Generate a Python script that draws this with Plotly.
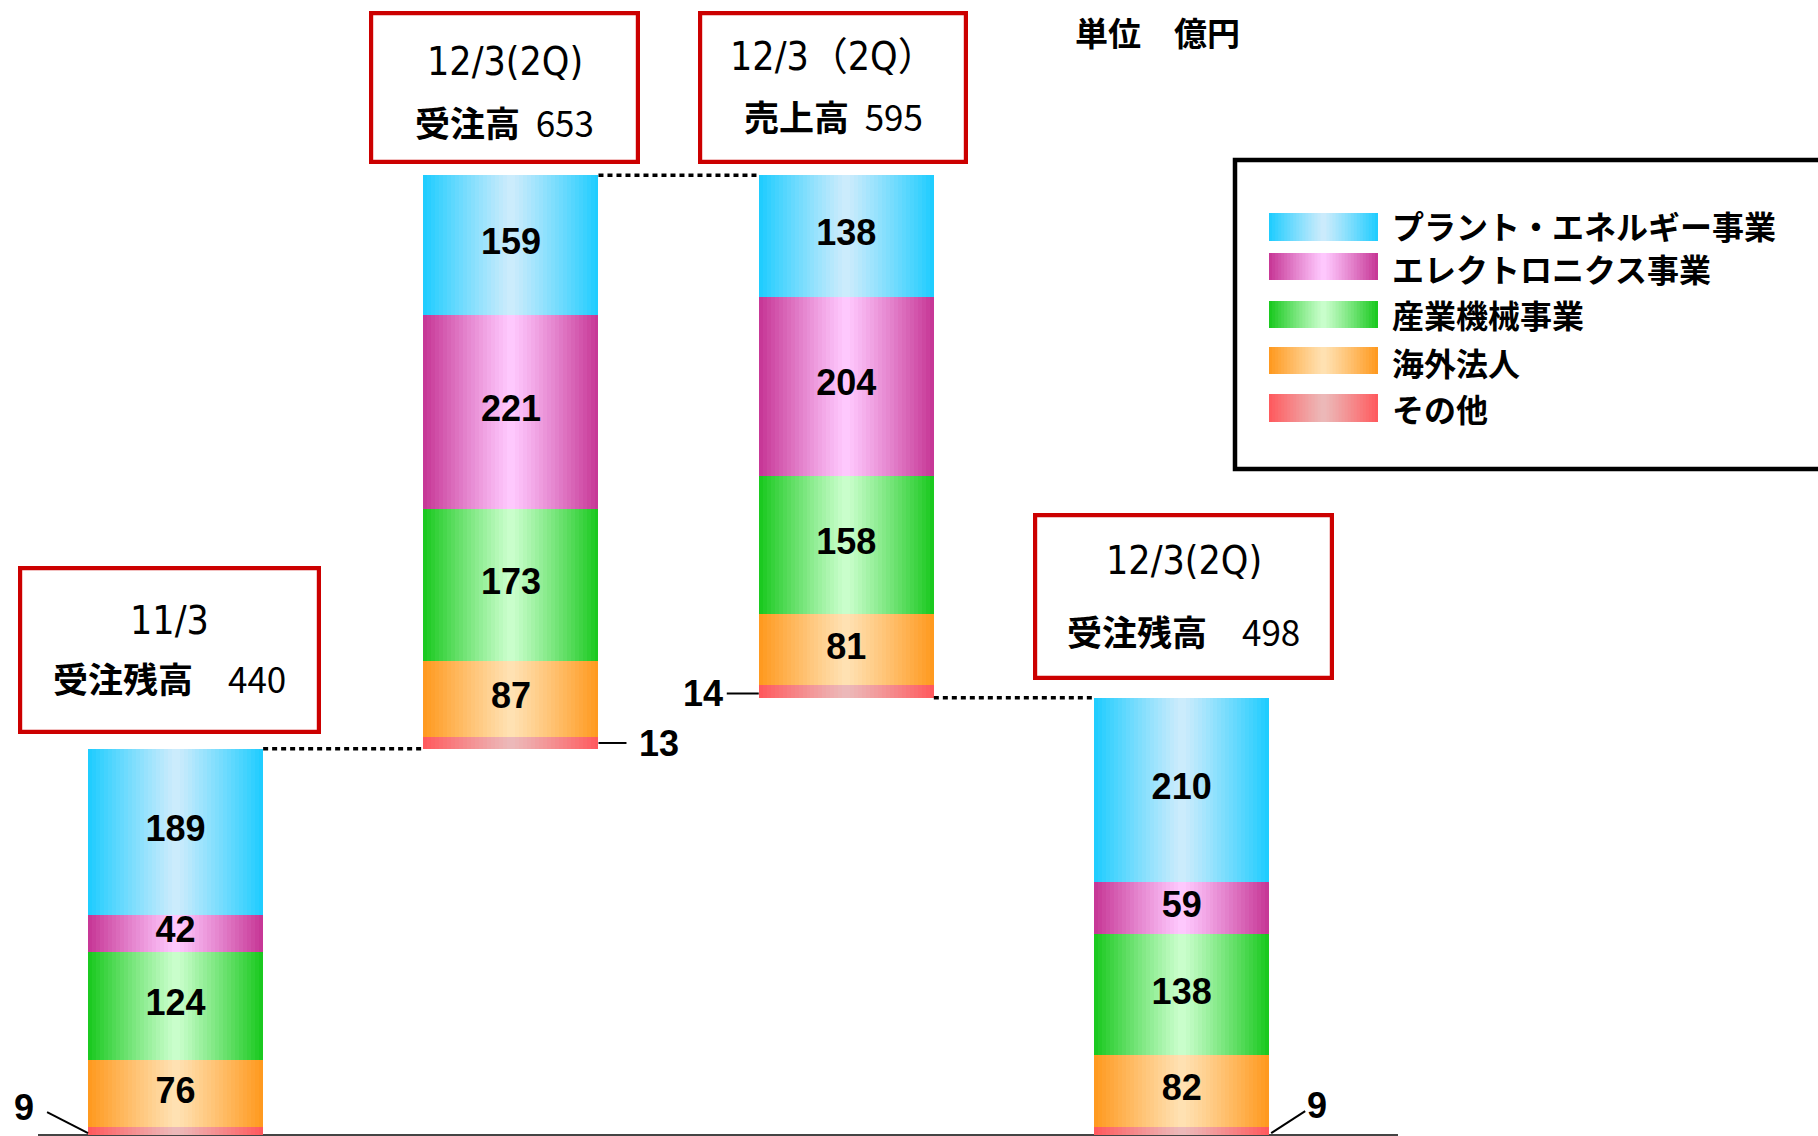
import plotly.graph_objects as go

# ---- data (億円) -------------------------------------------------------
# stacking order, bottom first
segments = ["その他", "海外法人", "産業機械事業", "エレクトロニクス事業", "プラント・エネルギー事業"]

period_labels = ["11/3", "12/3(2Q)", "12/3（2Q）", "12/3(2Q)"]
measure_labels = ["受注残高", "受注高", "売上高", "受注残高"]

other = [9, 13, 14, 9]
overseas = [76, 87, 81, 82]
industrial = [124, 173, 158, 138]
electronics = [42, 221, 204, 59]
plant = [189, 159, 138, 210]

series = [other, overseas, industrial, electronics, plant]

# ---- derived stack geometry ------------------------------------------
n_cols = len(period_labels)
xs = list(range(n_cols))
totals = [sum(s[i] for s in series) for i in range(n_cols)]
# opening backlog, + orders (floating), - sales (floating), closing backlog
col_base = [0, totals[0], totals[0] + totals[1] - totals[2], 0]

seg_bases = []
running = list(col_base)
for s in series:
    seg_bases.append(list(running))
    running = [running[i] + s[i] for i in range(n_cols)]
col_top = running

# ---- styling -----------------------------------------------------------
W_PX, H_PX = 1818, 1136
BAR_W = 0.522
Y_SCALE = 0.878          # pixels per 億円
Y_ZERO = 1135            # pixel row of the baseline
FONT_JP = "Noto Sans CJK JP"
FONT_NUM = "Liberation Sans, Arial"
FONT_PERIOD = "DejaVu Sans Condensed, Noto Sans CJK JP"

# (edge colour, centre colour) for the horizontal shading of each segment
shades = {
    "その他": ((255, 88, 92), (236, 186, 186)),
    "海外法人": ((255, 152, 28), (255, 226, 180)),
    "産業機械事業": ((22, 200, 28), (204, 255, 206)),
    "エレクトロニクス事業": ((198, 52, 148), (255, 202, 255)),
    "プラント・エネルギー事業": ((28, 204, 255), (206, 236, 252)),
}


def blend(edge, mid, u):
    t = min(1.0, abs(u - 0.5) * 2.0)
    t = t ** 1.1
    c = [round(m + (e - m) * t) for e, m in zip(edge, mid)]
    return "rgb({},{},{})".format(*c)


def px(x):
    return x / W_PX


def py(y):
    return 1 - y / H_PX


fig = go.Figure()

# shaded stacked bars, drawn as thin vertical strips
N_STRIPS = 44
step = BAR_W / N_STRIPS
for name, vals, bases in zip(segments, series, seg_bases):
    edge, mid = shades[name]
    for i in range(N_STRIPS):
        off = -BAR_W / 2 + i * step
        width = min(step * 1.6, BAR_W / 2 - off)
        fig.add_trace(go.Bar(
            x=xs, y=vals, base=bases,
            offset=off, width=width,
            marker=dict(color=blend(edge, mid, (i + 0.5) / N_STRIPS), line=dict(width=0)),
            showlegend=False, hoverinfo="skip",
        ))

# value labels inside the larger segments
lab_x, lab_y, lab_t = [], [], []
for vals, bases in zip(series[1:], seg_bases[1:]):
    for i in xs:
        lab_x.append(i)
        lab_y.append(bases[i] + vals[i] / 2)
        lab_t.append(str(vals[i]))
fig.add_trace(go.Scatter(
    x=lab_x, y=lab_y, text=lab_t, mode="text",
    textposition="middle center",
    textfont=dict(family=FONT_NUM, size=36, color="black", weight="bold"),
    showlegend=False, hoverinfo="skip",
))

shapes = []
annotations = []

# baseline
shapes.append(dict(type="line", xref="paper", yref="y", x0=px(38), x1=px(1398), y0=0, y1=0,
                   line=dict(color="#444444", width=2), layer="below"))

# dotted connectors between consecutive columns
connectors = [(0, col_top[0]), (1, col_top[1]), (2, col_base[2])]
for i, level in connectors:
    shapes.append(dict(type="line", xref="x", yref="y",
                       x0=i + BAR_W / 2, x1=i + 1 - BAR_W / 2, y0=level, y1=level,
                       line=dict(color="black", width=3.5, dash="5px,4px")))

# outside labels for the thin "その他" segments with leader lines
# (column, side, line start, line end, text shift) — pixel offsets, y up
leaders = [
    (0, -1, (0, -2), (-41, 19), (-64, 24)),
    (1, 1, (0, 0), (28, 0), (61, -1)),
    (2, -1, (0, -2), (-32, -2), (-56, -2)),
    (3, 1, (2, -2), (36, 20), (48, 26)),
]
for i, side, p0, p1, tshift in leaders:
    ax = i + side * BAR_W / 2
    ay = seg_bases[0][i] + other[i] / 2
    shapes.append(dict(type="line", xref="x", yref="y", xsizemode="pixel", ysizemode="pixel",
                       xanchor=ax, yanchor=ay, x0=p0[0], y0=p0[1], x1=p1[0], y1=p1[1],
                       line=dict(color="black", width=2)))
    annotations.append(dict(xref="x", yref="y", x=ax, y=ay, xshift=tshift[0], yshift=tshift[1],
                            text=str(other[i]), showarrow=False,
                            font=dict(family=FONT_NUM, size=36, color="black", weight="bold")))

# red call-out boxes with period and total
boxes = [
    ((18, 566, 321, 734), 620, 677, "\u3000"),
    ((369, 11, 640, 164), 62, 121, "\u00a0\u00a0"),
    ((698, 11, 968, 164), 57, 116, "\u00a0\u00a0"),
    ((1033, 513, 1334, 680), 560, 630, "\u3000"),
]
for i, ((x0, y0, x1, y1), l1, l2, gap) in enumerate(boxes):
    bw = 4.2
    shapes.append(dict(type="rect", xref="paper", yref="paper",
                       x0=px(x0 + bw / 2), x1=px(x1 - bw / 2), y0=py(y0 + bw / 2), y1=py(y1 - bw / 2),
                       line=dict(color="#CC0000", width=bw), fillcolor="white"))
    cx = px((x0 + x1) / 2)
    annotations.append(dict(xref="paper", yref="paper", x=cx, y=py(l1), text=period_labels[i],
                            showarrow=False, xanchor="center", yanchor="middle",
                            font=dict(family=FONT_PERIOD, size=39, color="black")))
    annotations.append(dict(xref="paper", yref="paper", x=cx, y=py(l2),
                            text="<b>{}</b>{}{}".format(measure_labels[i], gap, totals[i]),
                            showarrow=False, xanchor="center", yanchor="middle",
                            font=dict(family=FONT_JP, size=35, color="black")))

# unit note
annotations.append(dict(xref="paper", yref="paper", x=px(1157), y=py(32), text="<b>単位\u3000億円</b>",
                        showarrow=False, xanchor="center", yanchor="middle",
                        font=dict(family=FONT_JP, size=33, color="black")))

# legend panel
shapes.append(dict(type="rect", xref="paper", yref="paper",
                   x0=px(1235), x1=px(1840), y0=py(160), y1=py(469),
                   line=dict(color="black", width=4.5), fillcolor="white"))
legend_rows = [
    ("プラント・エネルギー事業", 213, 241, 225),
    ("エレクトロニクス事業", 253, 280, 268),
    ("産業機械事業", 301, 328, 314),
    ("海外法人", 347, 374, 362),
    ("その他", 394, 422, 408),
]
SW_X0, SW_X1, N_SW = 1269, 1378, 36
sw_step = (SW_X1 - SW_X0) / N_SW
for name, ty, by, cy in legend_rows:
    edge, mid = shades[name]
    for k in range(N_SW):
        sx0 = SW_X0 + k * sw_step
        sx1 = min(SW_X1, sx0 + sw_step * 1.6)
        shapes.append(dict(type="rect", xref="paper", yref="paper",
                           x0=px(sx0), x1=px(sx1), y0=py(by), y1=py(ty),
                           line=dict(width=0), fillcolor=blend(edge, mid, (k + 0.5) / N_SW)))
    annotations.append(dict(xref="paper", yref="paper", x=px(1390), y=py(cy), text="<b>{}</b>".format(name),
                            showarrow=False, xanchor="left", yanchor="middle",
                            font=dict(family=FONT_JP, size=32, color="black")))

fig.update_layout(
    width=W_PX, height=H_PX,
    margin=dict(l=0, r=0, t=0, b=0, pad=0),
    paper_bgcolor="white", plot_bgcolor="white",
    barmode="overlay", bargap=0,
    showlegend=False,
    xaxis=dict(range=[-175.6 / 335.35, (W_PX - 175.6) / 335.35], visible=False, fixedrange=True),
    yaxis=dict(range=[(Y_ZERO - H_PX) / Y_SCALE, Y_ZERO / Y_SCALE], visible=False, fixedrange=True),
    shapes=shapes,
    annotations=annotations,
)

fig.write_html("out.html")
